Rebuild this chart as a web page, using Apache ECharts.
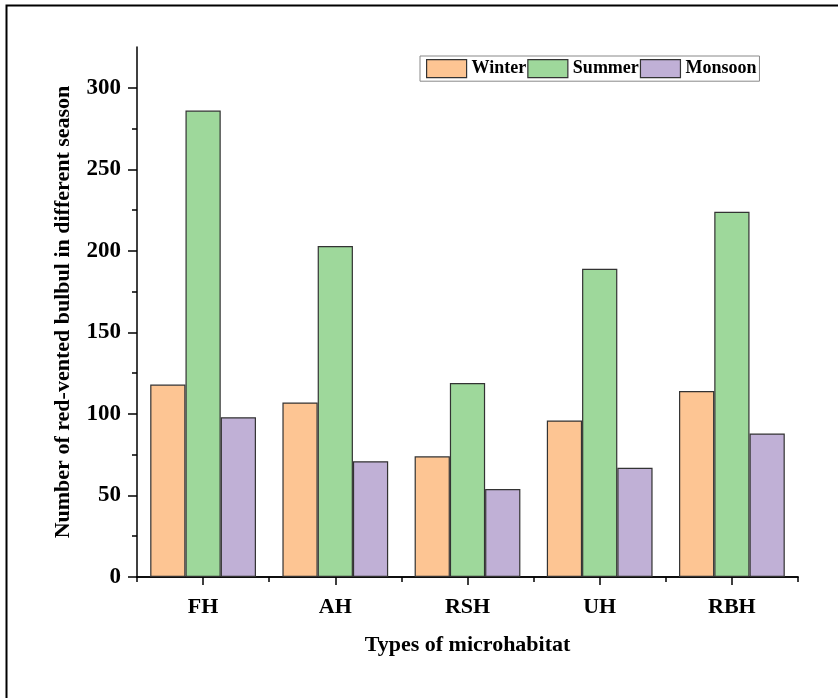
<!DOCTYPE html>
<html>
<head>
<meta charset="utf-8">
<script src="https://cdn.jsdelivr.net/npm/echarts@6/dist/echarts.min.js"></script>
<style>
  html, body { margin: 0; padding: 0; background: #fff; }
</style>
</head>
<body>
<!-- chart container -->
<div id="main" style="width: 838px;height:698px;"></div>
<script>
// data
var habitats = ['FH', 'AH', 'RSH', 'UH', 'RBH'];
var winter = [118, 107, 74, 96, 114];
var summer = [286, 203, 119, 189, 224];
var monsoon = [98, 71, 54, 67, 88];
var yTicks = [0, 50, 100, 150, 200, 250, 300];
var yMinorTicks = [25, 75, 125, 175, 225, 275];

var serif = 'Liberation Serif';
var chartDom = document.getElementById('main');
var myChart = echarts.init(chartDom);
var option;

function barSeries(name, data, color) {
    return {
        name: name,
        type: 'bar',
        data: data,
        xAxisIndex: 0,
        yAxisIndex: 0,
        barGap: '0%',
        barCategoryGap: '20%',
        itemStyle: {
            color: color,
            borderColor: '#333',
            borderWidth: 1.2
        }
    };
}

option = {
    animation: false,
    graphic: [
        {
            // outer frame, cut by the right and bottom edges
            type: 'rect',
            left: 4,
            top: 3,
            shape: { width: 840, height: 700 },
            style: { fill: 'none', stroke: '#000', lineWidth: 2 }
        }
    ],
    legend: {
        left: 420,
        top: 56,
        itemWidth: 40,
        itemHeight: 18,
        itemGap: 1,
        padding: [3, 3, 3, 6],
        borderColor: '#888',
        borderWidth: 1,
        icon: 'rect',
        itemStyle: { borderColor: '#333', borderWidth: 1.2 },
        textStyle: { fontFamily: serif, fontWeight: 'bold', fontSize: 18, color: '#000' },
        data: ['Winter', 'Summer', 'Monsoon']
    },
    grid: {
        left: 137,
        right: 40,
        top: 47,
        bottom: 121
    },
    xAxis: [
        {
            type: 'category',
            data: habitats,
            name: 'Types of microhabitat',
            nameLocation: 'middle',
            nameGap: 57,
            nameTextStyle: { fontFamily: serif, fontWeight: 'bold', fontSize: 22, color: '#000' },
            axisLine: { show: true, lineStyle: { color: '#000', width: 1.5 } },
            axisTick: { show: true, alignWithLabel: true, length: 8, lineStyle: { color: '#000', width: 1.5 } },
            axisLabel: { margin: 19, fontFamily: serif, fontWeight: 'bold', fontSize: 22, color: '#000' }
        },
        {
            // short ticks on category boundaries
            type: 'category',
            data: habitats,
            position: 'bottom',
            axisLine: { show: true, lineStyle: { color: '#000', width: 1.5 } },
            axisTick: { show: true, length: 5, lineStyle: { color: '#000', width: 1.5 } },
            axisLabel: { show: false }
        }
    ],
    yAxis: [
        {
            type: 'value',
            min: 0,
            max: 325,
            name: 'Number of red-vented bulbul in different season',
            nameLocation: 'middle',
            nameGap: 63,
            nameTextStyle: { fontFamily: serif, fontWeight: 'bold', fontSize: 22, color: '#000' },
            splitLine: { show: false },
            axisLine: { show: true, lineStyle: { color: '#000', width: 1.5 } },
            axisTick: { show: true, length: 9, customValues: yTicks, lineStyle: { color: '#000', width: 1.5 } },
            axisLabel: { margin: 16, customValues: yTicks, fontFamily: serif, fontWeight: 'bold', fontSize: 23, color: '#000' }
        },
        {
            // minor ticks
            type: 'value',
            min: 0,
            max: 325,
            position: 'left',
            splitLine: { show: false },
            axisLine: { show: false },
            axisTick: { show: true, length: 5, customValues: yMinorTicks, lineStyle: { color: '#000', width: 1.5 } },
            axisLabel: { show: false }
        }
    ],
    series: [
        barSeries('Winter', winter, '#FDC593'),
        barSeries('Summer', summer, '#9ED89B'),
        barSeries('Monsoon', monsoon, '#C0B0D6')
    ]
};

option && myChart.setOption(option);
</script>
</body>
</html>
